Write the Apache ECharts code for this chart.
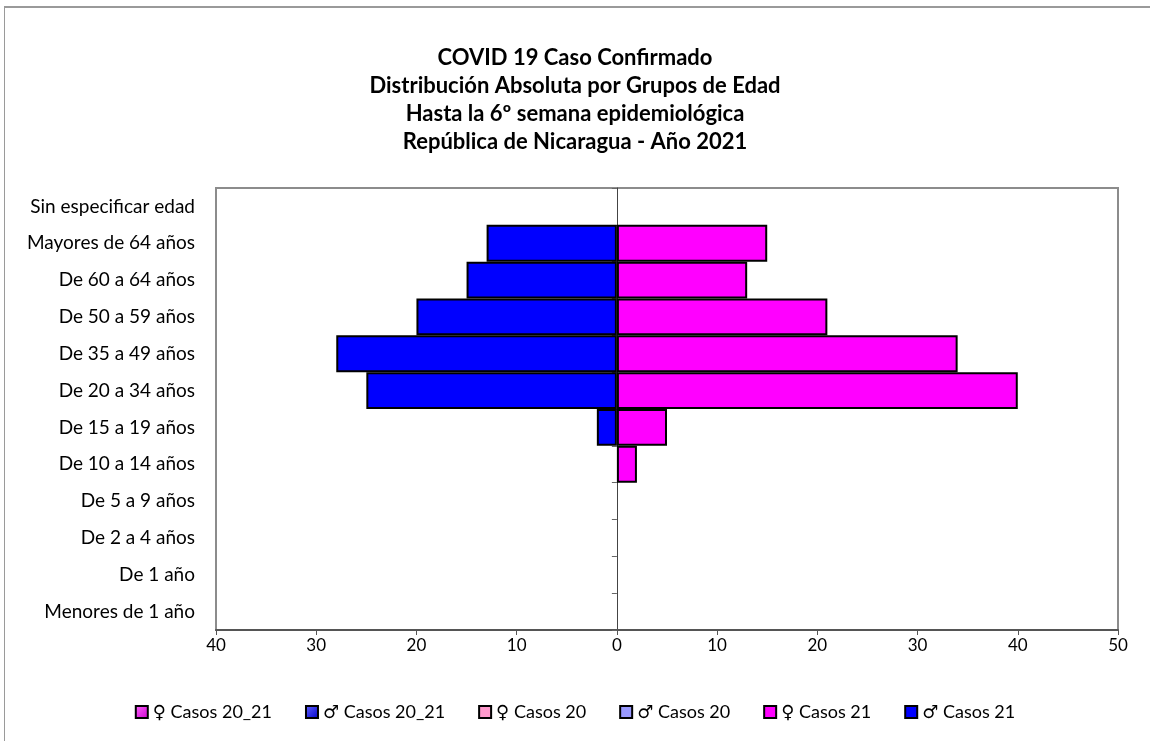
<!DOCTYPE html>
<html>
<head>
<meta charset="utf-8">
<script src="https://cdn.jsdelivr.net/npm/echarts@6/dist/echarts.min.js"></script>
<style>
html,body{margin:0;padding:0;background:#fff;}
#frame{position:absolute;left:4px;top:6px;width:1200px;height:800px;border-left:1px solid #9a9a9a;border-top:2px solid #9a9a9a;box-sizing:border-box;}
#chart{position:absolute;left:0;top:0;width:1150px;height:741px;}
</style>
</head>
<body>
<div id="frame"></div>
<div id="chart"></div>
<script>
const titleLines = [
  'COVID 19 Caso Confirmado',
  'Distribución Absoluta por Grupos de Edad',
  'Hasta la 6º semana epidemiológica',
  'República de Nicaragua - Año 2021'
];
const categories = [
  'Menores de 1 año','De 1 año','De 2 a 4 años','De 5 a 9 años','De 10 a 14 años',
  'De 15 a 19 años','De 20 a 34 años','De 35 a 49 años','De 50 a 59 años',
  'De 60 a 64 años','Mayores de 64 años','Sin especificar edad'
];
const seriesNames = ['♀ Casos 20_21','♂ Casos 20_21','♀ Casos 20','♂ Casos 20','♀ Casos 21','♂ Casos 21'];
const femCasos21 = [0,0,0,0,2,5,40,34,21,13,15,0];
const malCasos21 = [0,0,0,0,0,2,25,28,20,15,13,0];
const femCasos20 = [];
const malCasos20 = [];
const femCasos2021 = [];
const malCasos2021 = [];
const xMin = -40, xMax = 50, xStep = 10;

const FONT = 'Lato, "DejaVu Sans", sans-serif';
function toBars(arr, sign){ return arr.map(v => v ? sign*v : '-'); }
function grad(c1,c2){ return new echarts.graphic.LinearGradient(0,0,1,1,[{offset:0,color:c1},{offset:1,color:c2}]); }

const chart = echarts.init(document.getElementById('chart'));
const barBase = {type:'bar', barGap:'-100%', barCategoryGap:'0%', yAxisIndex:0};
const colors = [grad('#ff66ff','#cc00cc'), grad('#6666ff','#0000cc'), '#ff99cc', '#9999ff', '#ff00ff', '#0000ff'];
const datas = [toBars(femCasos2021,1), toBars(malCasos2021,-1), toBars(femCasos20,1), toBars(malCasos20,-1), toBars(femCasos21,1), toBars(malCasos21,-1)];

chart.setOption({
  animation:false,
  title:{
    text:titleLines.join('\n'), left:'center', top:39,
    textStyle:{fontFamily:FONT, fontSize:22, fontWeight:'bold', color:'#000', lineHeight:28}
  },
  legend:{
    top:698, left:'center', itemWidth:12, itemHeight:12, itemGap:33,
    icon:'rect',
    textStyle:{fontFamily:FONT, fontSize:18, color:'#000'},
    data:seriesNames
  },
  grid:{left:216, right:32, top:188, bottom:111, show:true, borderColor:'#8c8c8c', borderWidth:2, containLabel:false},
  xAxis:{
    type:'value', min:xMin, max:xMax, interval:xStep,
    axisLine:{show:true, lineStyle:{color:'#555', width:2}},
    axisTick:{show:true, length:5, lineStyle:{color:'#555'}},
    splitLine:{show:false},
    axisLabel:{fontFamily:FONT, fontSize:17, color:'#000', margin:7, formatter:v=>Math.abs(v)}
  },
  yAxis:[
    {type:'category', data:categories, position:'left',
      axisLine:{show:false, onZero:false}, axisTick:{show:false},
      axisLabel:{fontFamily:FONT, fontSize:19, color:'#000', margin:21}},
    {type:'category', data:categories, position:'left',
      axisLine:{show:true, onZero:true, lineStyle:{color:'#444', width:1}},
      axisTick:{show:true, length:5, lineStyle:{color:'#666'}},
      axisLabel:{show:false}}
  ],
  series: seriesNames.map((n,i)=>Object.assign({}, barBase, {
    name:n, data:datas[i],
    itemStyle:{color:colors[i], borderColor:'#000', borderWidth:2}
  }))
});
</script>
</body>
</html>
